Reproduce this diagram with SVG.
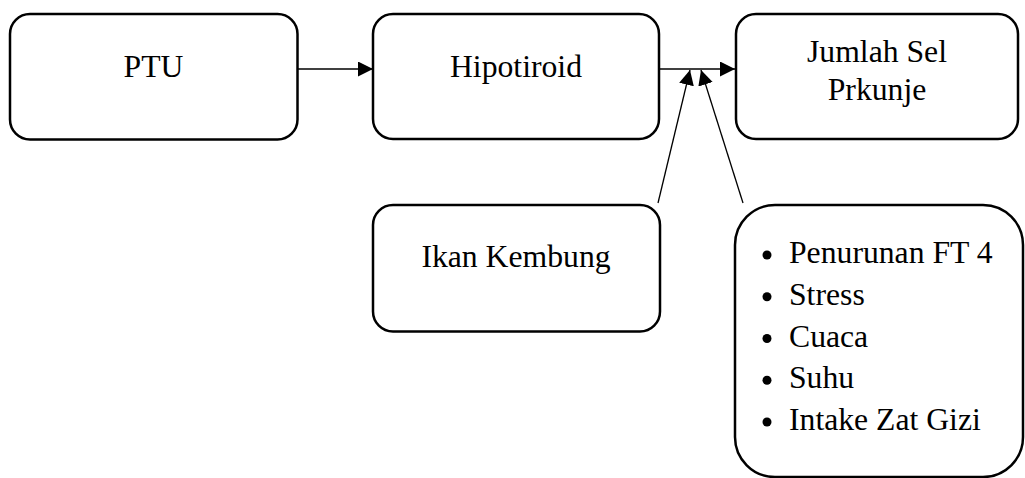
<svg xmlns="http://www.w3.org/2000/svg" width="1025" height="478" viewBox="0 0 1025 478">
<style>
.box{fill:#fff;stroke:#000;stroke-width:2.5}
.t{font-family:"Liberation Serif","Times New Roman",serif;font-size:31.7px;fill:#000}
.c{stroke:#000;stroke-width:1.3;fill:none}
</style>
<defs>
<marker id="ah" markerUnits="userSpaceOnUse" markerWidth="16" markerHeight="16" refX="15" refY="7.5" orient="auto" viewBox="0 0 16 16">
<path d="M0,0 L15,7.5 L0,15 z" fill="#000"/>
</marker>
</defs>
<g id="connectors">
<line class="c" x1="298" y1="69" x2="373" y2="69" marker-end="url(#ah)"/>
<line class="c" x1="660" y1="69" x2="735" y2="69" marker-end="url(#ah)"/>
<line class="c" x1="658" y1="203" x2="690" y2="70" marker-end="url(#ah)"/>
<line class="c" x1="743" y1="203" x2="701" y2="70" marker-end="url(#ah)"/>
</g>
<g id="ptu">
<rect class="box" x="10" y="14" width="287.5" height="125.5" rx="20"/>
<text class="t" x="153.5" y="77" text-anchor="middle">PTU</text>
</g>
<g id="hipotiroid">
<rect class="box" x="373" y="14" width="286" height="125" rx="20"/>
<text class="t" x="516" y="77" text-anchor="middle">Hipotiroid</text>
</g>
<g id="jumlah">
<rect class="box" x="736" y="14" width="282" height="125" rx="20"/>
<text class="t" x="877" y="62" text-anchor="middle">Jumlah Sel</text>
<text class="t" x="877" y="100" text-anchor="middle">Prkunje</text>
</g>
<g id="ikan">
<rect class="box" x="373" y="205" width="287" height="126.5" rx="20"/>
<text class="t" x="516" y="267" text-anchor="middle">Ikan Kembung</text>
</g>
<g id="faktor">
<rect class="box" x="735" y="205" width="288" height="272" rx="40"/>
<circle cx="767" cy="255" r="4.5"/>
<circle cx="767" cy="296.75" r="4.5"/>
<circle cx="767" cy="338.5" r="4.5"/>
<circle cx="767" cy="380.25" r="4.5"/>
<circle cx="767" cy="422" r="4.5"/>
<text class="t" x="789" y="263">Penurunan FT 4</text>
<text class="t" x="789" y="304.75">Stress</text>
<text class="t" x="789" y="346.5">Cuaca</text>
<text class="t" x="789" y="388.25">Suhu</text>
<text class="t" x="789" y="430">Intake Zat Gizi</text>
</g>
</svg>
